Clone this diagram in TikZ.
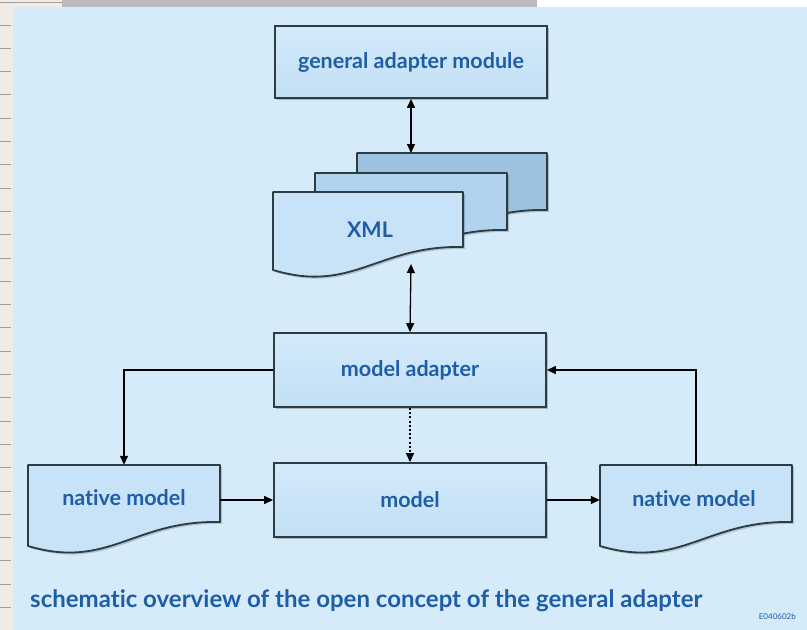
\documentclass[tikz,border=0pt]{standalone}
\usepackage{fontspec}
\setmainfont{Lato}[Ligatures=NoCommon]
\usetikzlibrary{arrows.meta,calc,shadows}

\definecolor{panel}{HTML}{D6EBF9}
\definecolor{boxtop}{HTML}{D3EAFA}
\definecolor{boxbot}{HTML}{C2DFF5}
\definecolor{docA}{HTML}{C8E3F7}
\definecolor{docB}{HTML}{B2D3EE}
\definecolor{docC}{HTML}{9DC2E0}
\definecolor{edge}{HTML}{2D3B42}
\definecolor{label}{HTML}{1F5EA6}
\definecolor{strip}{HTML}{EEECE4}
\definecolor{stripline}{HTML}{A09E96}
\definecolor{topbar}{HTML}{BCB9BC}

% document symbol: top edge, straight right side, wavy bottom
% #1 style, #2 left x, #3 top y, #4 right x, #5 right bottom y, #6 left bottom y
\newcommand\docsymbol[6]{%
  \pgfmathsetmacro\docw{#4-#2}%
  \path[#1] (#2,#3) -- (#4,#3) -- (#4,#5)
    .. controls ({#2+0.55*\docw},{#5-2}) and ({#2+0.42*\docw},{#6+24}) .. (#2,#6) -- cycle;}

\begin{document}
\begin{tikzpicture}[x=1pt,y=-1pt,
  lbl/.style={font=\bfseries\fontsize{21.5}{24}\selectfont, text=label, inner sep=0pt},
  procbox/.style={draw=edge, line width=1.8pt, top color=boxtop, bottom color=boxbot,
    minimum width=272pt, minimum height=72pt, inner sep=0pt, lbl,
    drop shadow={shadow xshift=2pt, shadow yshift=-2pt, fill=black, opacity=0.22}},
  docline/.style={draw=edge, line width=1.8pt, line join=round},
  docshadow/.style={fill=black, opacity=0.18, shift={(2,2)}},
  arr/.style={line width=1.3pt, -{Triangle[length=9pt,width=8pt]}},
  biarr/.style={line width=1.3pt, {Triangle[length=9pt,width=8pt]}-{Triangle[length=9pt,width=8pt]}},
  dotarr/.style={arr, dash pattern=on 2pt off 2.2pt}]

\useasboundingbox (0,0) rectangle (807,630);

% surroundings: margin strip, top bar and the light panel
\fill[white] (0,0) rectangle (807,630);
\fill[strip] (0,0) rectangle (13,630);
\fill[strip] (0,0) rectangle (62,7);
\draw[stripline, line width=0.8pt] (0,2) -- (62,2);
\foreach \k in {0,...,25} {
  \draw[stripline, line width=0.9pt] (0,{25+23.3*\k}) -- (11,{25+23.3*\k});
}
\fill[topbar] (62,0) rectangle (537,7);
\fill[panel] (13,7) rectangle (807,630);

% process boxes
\node[procbox] (gam) at (411,62) {general adapter module};
\node[procbox, minimum height=74pt] (ma) at (410,370) {model adapter};
\node[procbox, minimum height=74pt] (model) at (410,500) {model};

% stacked XML documents
\docsymbol{docshadow}{357}{153}{547}{210}{233}
\docsymbol{docline, fill=docC}{357}{153}{547}{210}{233}
\docsymbol{docshadow}{315}{173}{507}{230}{253}
\docsymbol{docline, fill=docB}{315}{173}{507}{230}{253}
\docsymbol{docshadow}{273}{192}{463}{247}{270}
\docsymbol{docline, fill=docA}{273}{192}{463}{247}{270}
\node[lbl] (xml) at (370,230) {XML};
\coordinate (xmltop) at (411,153);
\coordinate (xmlbot) at (411,264);

% native model documents
\docsymbol{docshadow}{28}{465}{220}{522}{546}
\docsymbol{docline, fill=docA}{28}{465}{220}{522}{546}
\docsymbol{docshadow}{600}{465}{792}{522}{546}
\docsymbol{docline, fill=docA}{600}{465}{792}{522}{546}
\node[minimum width=192pt, minimum height=57pt, inner sep=0pt] (nml) at (124,493.5) {};
\node[minimum width=192pt, minimum height=57pt, inner sep=0pt] (nmr) at (696,493.5) {};
\node[lbl] at (124,498) {native model};
\node[lbl] at (694,499) {native model};

% connectors
\draw[biarr] (gam.south) -- (xmltop);
\draw[biarr] (xmlbot) -- (ma.north);
\draw[dotarr] (ma.south) -- (model.north);
\draw[arr] (ma.west) -| (nml.north);
\draw[arr] (nml.east |- model.west) -- (model.west);
\draw[arr] (model.east) -- (nmr.west |- model.east);
\draw[arr] (nmr.north) |- (ma.east);

% caption and drawing number
\node[anchor=west, font=\bfseries\fontsize{24}{27}\selectfont, text=label, inner sep=0pt]
  (caption) at (30,601) {schematic overview of the open concept of the general adapter};
\node[anchor=east, font=\fontsize{8}{9}\selectfont, text=label, inner sep=0pt]
  (code) at (796,617) {E040602b};
\end{tikzpicture}
\end{document}
